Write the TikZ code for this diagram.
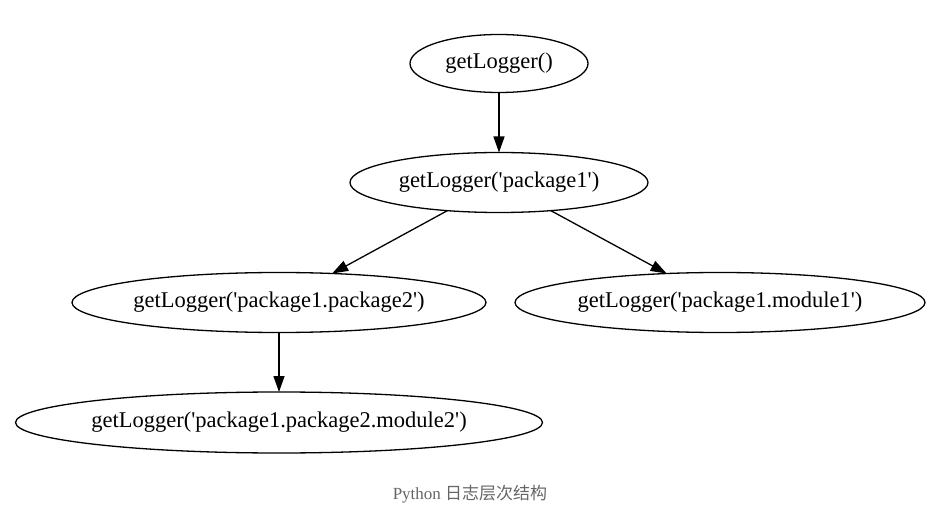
\documentclass[tikz,border=0pt]{standalone}
\usepackage{fontspec}
\setmainfont{Liberation Serif}
\newfontfamily\cjk{Noto Sans CJK SC}
\usetikzlibrary{shapes.geometric,arrows.meta}
\newcommand{\sq}{\textquotesingle}
\newcommand{\lbl}[1]{\makebox[0pt]{#1}}
\begin{document}
\begin{tikzpicture}[x=1pt,y=-1pt,
  lognode/.style={draw,ellipse,inner sep=0pt,outer sep=0pt,line width=1.3pt,
    font=\fontsize{22.5}{27}\selectfont},
  edge/.style={line width=1.3pt,-{Triangle[length=16pt,width=11pt]}},
  captionstyle/.style={text=black!60,font=\fontsize{17}{20}\selectfont}]
\useasboundingbox (0,0) rectangle (944,526);
\node[lognode,minimum width=178pt,minimum height=58pt] (root) at (499,63.5) {\lbl{getLogger()}};
\node[lognode,minimum width=298pt,minimum height=60pt] (p1) at (499,182.5) {\lbl{getLogger(\sq package1\sq)}};
\node[lognode,minimum width=414pt,minimum height=60pt] (p2) at (279,302.5) {\lbl{getLogger(\sq package1.package2\sq)}};
\node[lognode,minimum width=410pt,minimum height=60pt] (m1) at (720,302.5) {\lbl{getLogger(\sq package1.module1\sq)}};
\node[lognode,minimum width=527pt,minimum height=61pt] (m2) at (279,422.5) {\lbl{getLogger(\sq package1.package2.module2\sq)}};
\draw[edge] (root) -- (p1);
\draw[edge] (p1) -- (p2);
\draw[edge] (p1) -- (m1);
\draw[edge] (p2) -- (m2);
\node[captionstyle] (caption) at (470,494) {Python {\cjk 日志层次结构}};
\end{tikzpicture}
\end{document}
